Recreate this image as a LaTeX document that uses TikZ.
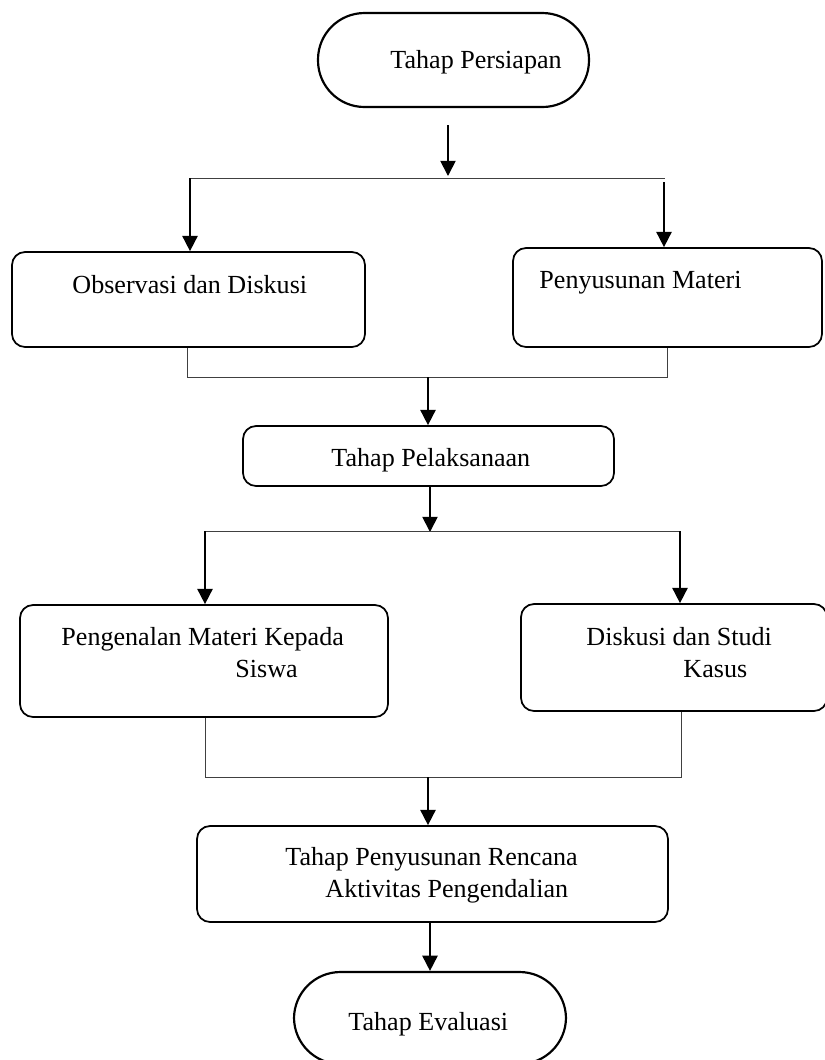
\documentclass[tikz,border=0pt]{standalone}
\usepackage{fontspec}
\setmainfont{Liberation Serif}
\usetikzlibrary{arrows.meta,fit}
\tikzset{
	caja/.style={draw,line width=0.8pt,rounded corners=6pt,inner sep=0pt},
	capsula/.style={draw,line width=1pt,rounded corners=21.4pt,inner sep=0pt},
	texto/.style={anchor=base west,inner sep=0pt,font=\fontsize{12}{14.8}\selectfont},
	flecha/.style={line width=0.8pt,-{Triangle[length=7pt,width=7pt]}},
	linea/.style={line width=0.45pt,black!75}
}
\begin{document}
\begin{tikzpicture}[x=0.46pt,y=-0.46pt]
	\useasboundingbox (0,0) rectangle (825,1060);
	% inicio y fin
	\node[capsula,fit={(318,13) (589,107)}] (persiapan) {};
	\node[capsula,fit={(294,972) (566,1064)}] (evaluasi) {};
	% cajas
	\foreach \Nm/\Xa/\Ya/\Xb/\Yb in
	{observasi/12/252/365/347,materi/513/248/822/347,pelaksanaan/243/426/614/486,pengenalan/20/605/388/717,diskusi/521/604/827/711,rencana/197/826/668/922}
	{
		\node[caja,fit={(\Xa,\Ya) (\Xb,\Yb)}] (\Nm) {};
	}
	% textos
	\foreach \Nm/\Xc/\Yc/\Texto in
	{t-persiapan/390/68/Tahap Persiapan,t-observasi/72/293/Observasi dan Diskusi,t-materi/539/288/Penyusunan Materi,t-pelaksanaan/331/466/Tahap Pelaksanaan,t-pengenalan-a/61/645/Pengenalan Materi Kepada,t-pengenalan-b/235/677/Siswa,t-diskusi-a/586/645/Diskusi dan Studi,t-diskusi-b/683/677/Kasus,t-rencana-a/285/865/Tahap Penyusunan Rencana,t-rencana-b/325/897/Aktivitas Pengendalian,t-evaluasi/348/1030/Tahap Evaluasi}
	{
		\node[texto] (\Nm) at (\Xc,\Yc) {\Texto};
	}
	% uniones
	\coordinate (s1) at (448,125);
	\coordinate (j1) at (448,176);
	\coordinate (h1a) at (190,178);
	\coordinate (h1b) at (665,178);
	\coordinate (s2) at (664,182);
	\coordinate (b1) at (187,377);
	\coordinate (b2) at (667,377);
	\coordinate (j2) at (428,377);
	\coordinate (j3) at (430,532);
	\coordinate (h3a) at (205,531);
	\coordinate (h3b) at (680,531);
	\coordinate (b3) at (205,777);
	\coordinate (b4) at (681,777);
	\coordinate (j4) at (428,777);
	\draw[flecha] (s1) -- (j1);
	\draw[linea] (h1a) -- (h1b);
	\draw[flecha] (h1a) -- (h1a |- observasi.north);
	\draw[flecha] (s2) -- (s2 |- materi.north);
	\draw[linea] (observasi.south -| b1) -- (b1) -- (b2) -- (materi.south -| b2);
	\draw[flecha] (j2) -- (j2 |- pelaksanaan.north);
	\draw[flecha] (pelaksanaan.south -| j3) -- (j3);
	\draw[linea] (h3a) -- (h3b);
	\draw[flecha] (h3a) -- (h3a |- pengenalan.north);
	\draw[flecha] (h3b) -- (h3b |- diskusi.north);
	\draw[linea] (pengenalan.south -| b3) -- (b3) -- (b4) -- (diskusi.south -| b4);
	\draw[flecha] (j4) -- (j4 |- rencana.north);
	\draw[flecha] (rencana.south -| evaluasi.north) -- (evaluasi.north);
\end{tikzpicture}
\end{document}
